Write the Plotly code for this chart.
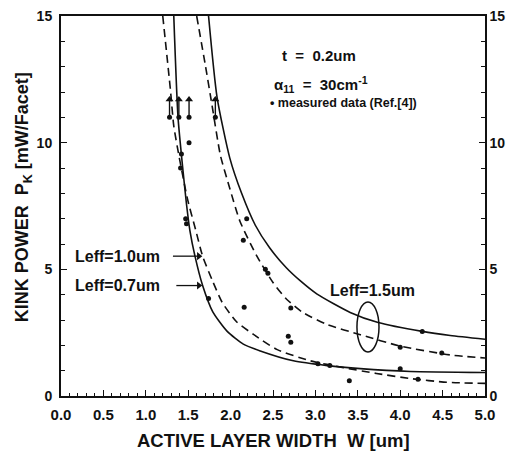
import plotly.graph_objects as go

# Theoretical kink-power curves: active layer width W [um] -> P_K [mW/facet]
w_low_solid = [1.33, 1.38, 1.44, 1.48, 1.52, 1.58, 1.67, 1.79, 1.96, 2.15, 2.35, 2.74, 3.14, 3.53, 4.12, 5.0]
p_low_solid = [15.0, 11.0, 8.85, 7.57, 6.53, 5.52, 4.36, 3.32, 2.55, 2.05, 1.78, 1.39, 1.20, 1.08, 0.97, 0.93]

w_low_dash = [1.20, 1.29, 1.33, 1.39, 1.49, 1.59, 1.67, 1.78, 1.90, 2.07, 2.27, 2.55, 2.94, 3.33, 3.72, 4.12, 4.55, 5.0]
p_low_dash = [15.0, 12.1, 10.66, 9.5, 7.8, 6.53, 5.52, 4.6, 3.7, 2.93, 2.43, 1.83, 1.39, 1.12, 0.89, 0.69, 0.54, 0.50]

w_up_solid = [1.74, 1.84, 1.99, 2.13, 2.29, 2.46, 2.66, 2.82, 3.02, 3.41, 3.74, 4.26, 4.59, 5.0]
p_up_solid = [15.0, 11.8, 9.4, 8.0, 6.75, 5.85, 5.05, 4.55, 4.02, 3.3, 2.9, 2.55, 2.39, 2.24]

w_up_dash = [1.60, 1.70, 1.78, 1.88, 1.99, 2.11, 2.31, 2.50, 2.66, 2.85, 3.14, 3.53, 4.0, 4.59, 5.0]
p_up_dash = [15.0, 13.1, 11.5, 9.5, 8.2, 6.9, 5.52, 4.48, 3.82, 3.3, 2.82, 2.42, 1.97, 1.62, 1.5]

# Measured data (Ref.[4])
w_meas = [1.51, 1.42, 1.41, 1.47, 1.48, 2.19, 2.15, 2.41, 2.44, 2.16, 1.74, 2.68, 2.71, 2.71,
          3.03, 3.17, 3.40, 4.0, 4.0, 4.21, 4.26, 4.49]
p_meas = [10.0, 9.55, 9.0, 7.0, 6.8, 7.0, 6.15, 5.0, 4.85, 3.5, 3.85, 2.36, 2.12, 3.47,
          1.27, 1.2, 0.6, 1.92, 1.08, 0.66, 2.55, 1.7]

# Measured lower bounds (kink not reached): value and arrow tip
w_bound = [1.28, 1.39, 1.51, 1.82]
p_bound = [11.0, 11.0, 11.0, 11.0]
p_bound_tip = [11.85, 11.85, 11.85, 11.85]

# Curve labels with pointer arrows
leff_labels = ["Leff=1.0um", "Leff=0.7um"]
leff_label_w = [0.67, 0.67]
leff_label_p = [5.52, 4.36]
leff_arrow_tail_w = [1.32, 1.36]
leff_arrow_tip_w = [1.67, 1.67]

FONT = "Liberation Sans"
BLACK = "#111111"
HEAD_DX = 0.045   # arrow-head half length along x  [data units]
HEAD_DY = 0.15    # arrow-head half length along y  [data units]

fig = go.Figure()


def curve(w, p, dash):
    fig.add_trace(go.Scatter(
        x=w, y=p, mode="lines", line_shape="spline",
        line=dict(color=BLACK, width=1.6, dash=dash, smoothing=0.6),
        showlegend=False, hoverinfo="skip"))


curve(w_low_solid, p_low_solid, "solid")
curve(w_low_dash, p_low_dash, "8px,5px")
curve(w_up_solid, p_up_solid, "solid")
curve(w_up_dash, p_up_dash, "8px,5px")

fig.add_trace(go.Scatter(
    x=w_meas + w_bound, y=p_meas + p_bound, mode="markers",
    marker=dict(color=BLACK, size=5), showlegend=False, hoverinfo="skip"))

# vertical arrows on the lower-bound points
sx, sy = [], []
for w, p0, p1 in zip(w_bound, p_bound, p_bound_tip):
    sx += [w, w, None]
    sy += [p0, p1 - HEAD_DY, None]
fig.add_trace(go.Scatter(x=sx, y=sy, mode="lines", line=dict(color=BLACK, width=1.4),
                         showlegend=False, hoverinfo="skip"))
fig.add_trace(go.Scatter(
    x=w_bound, y=[p - HEAD_DY for p in p_bound_tip], mode="markers",
    marker=dict(symbol="triangle-up", size=7, color=BLACK),
    showlegend=False, hoverinfo="skip"))

# horizontal pointer arrows for the Leff labels
ax_, ay_ = [], []
for tw, hw, p in zip(leff_arrow_tail_w, leff_arrow_tip_w, leff_label_p):
    ax_ += [tw, hw - HEAD_DX, None]
    ay_ += [p, p, None]
fig.add_trace(go.Scatter(x=ax_, y=ay_, mode="lines", line=dict(color=BLACK, width=1.3),
                         showlegend=False, hoverinfo="skip"))
fig.add_trace(go.Scatter(
    x=[hw - HEAD_DX for hw in leff_arrow_tip_w], y=leff_label_p, mode="markers",
    marker=dict(symbol="triangle-right", size=7, color=BLACK),
    showlegend=False, hoverinfo="skip"))

# right-hand axis carrier
fig.add_trace(go.Scatter(x=[None], y=[None], yaxis="y2", showlegend=False))

annotations = []
for txt, lw, lp in zip(leff_labels, leff_label_w, leff_label_p):
    annotations.append(dict(
        x=lw, y=lp, xref="x", yref="y", text=txt, showarrow=False,
        font=dict(family=FONT, size=16, color=BLACK, weight="bold"),
        xanchor="center", yanchor="middle"))

annotations.append(dict(
    x=3.67, y=4.17, xref="x", yref="y", text="Leff=1.5um", showarrow=False,
    font=dict(family=FONT, size=16, color=BLACK, weight="bold"),
    xanchor="center", yanchor="middle"))

annotations += [
    dict(x=2.58, y=13.44, xref="x", yref="y", text="t  =  0.2um", showarrow=False,
         xanchor="left", yanchor="middle",
         font=dict(family=FONT, size=15, color=BLACK, weight="bold")),
    dict(x=2.49, y=12.3, xref="x", yref="y",
         text="α<sub>11</sub>  =  30cm<sup>-1</sup>", showarrow=False,
         xanchor="left", yanchor="middle",
         font=dict(family=FONT, size=15, color=BLACK, weight="bold")),
    dict(x=2.44, y=11.55, xref="x", yref="y", text="• measured data (Ref.[4])",
         showarrow=False, xanchor="left", yanchor="middle",
         font=dict(family=FONT, size=12.5, color=BLACK, weight="bold")),
    dict(x=0.5, y=-0.116, xref="paper", yref="paper",
         text="ACTIVE LAYER WIDTH  W [um]", showarrow=False,
         xanchor="center", yanchor="middle",
         font=dict(family=FONT, size=18.5, color=BLACK, weight="bold")),
    dict(x=-0.0896, y=0.523, xref="paper", yref="paper",
         text="KINK POWER  P<sub>K</sub> [mW/Facet]", showarrow=False,
         textangle=-90, xanchor="center", yanchor="middle",
         font=dict(family=FONT, size=18, color=BLACK, weight="bold")),
]

fig.add_shape(type="circle", xref="x", yref="y", x0=3.49, x1=3.75, y0=1.74, y1=3.71,
              line=dict(color=BLACK, width=1.5))

tickfont_y = dict(family=FONT, size=14, color=BLACK, weight="bold")
fig.update_layout(
    width=518, height=456,
    margin=dict(l=61, r=33, t=8, b=60),
    paper_bgcolor="white", plot_bgcolor="white",
    annotations=annotations,
    xaxis=dict(
        range=[0, 5], tickvals=[0, 0.5, 1, 1.5, 2, 2.5, 3, 3.5, 4, 4.5, 5],
        ticktext=["0.0", "0.5", "1.0", "1.5", "2.0", "2.5", "3.0", "3.5", "4.0", "4.5", "5.0"],
        ticks="inside", ticklen=6, tickwidth=1.3, tickcolor=BLACK,
        minor=dict(dtick=0.1, ticks="inside", ticklen=3, tickwidth=1, tickcolor=BLACK),
        showline=True, linecolor=BLACK, linewidth=2, mirror=True,
        showgrid=False, zeroline=False, ticklabelstandoff=4,
        tickfont=dict(family=FONT, size=15, color=BLACK, weight="bold")),
    yaxis=dict(
        range=[0, 15], tickvals=[0, 5, 10, 15],
        ticks="inside", ticklen=6, tickwidth=1.3, tickcolor=BLACK,
        minor=dict(dtick=1, ticks="inside", ticklen=4, tickwidth=1, tickcolor=BLACK),
        showline=True, linecolor=BLACK, linewidth=2,
        showgrid=False, zeroline=False, ticklabelstandoff=4,
        tickfont=tickfont_y),
    yaxis2=dict(
        range=[0, 15], tickvals=[0, 5, 10, 15], overlaying="y", side="right",
        ticks="inside", ticklen=6, tickwidth=1.3, tickcolor=BLACK,
        minor=dict(dtick=1, ticks="inside", ticklen=4, tickwidth=1, tickcolor=BLACK),
        showline=True, linecolor=BLACK, linewidth=1.5,
        showgrid=False, zeroline=False, ticklabelstandoff=0,
        tickfont=tickfont_y),
)

fig.write_html("out.html")
